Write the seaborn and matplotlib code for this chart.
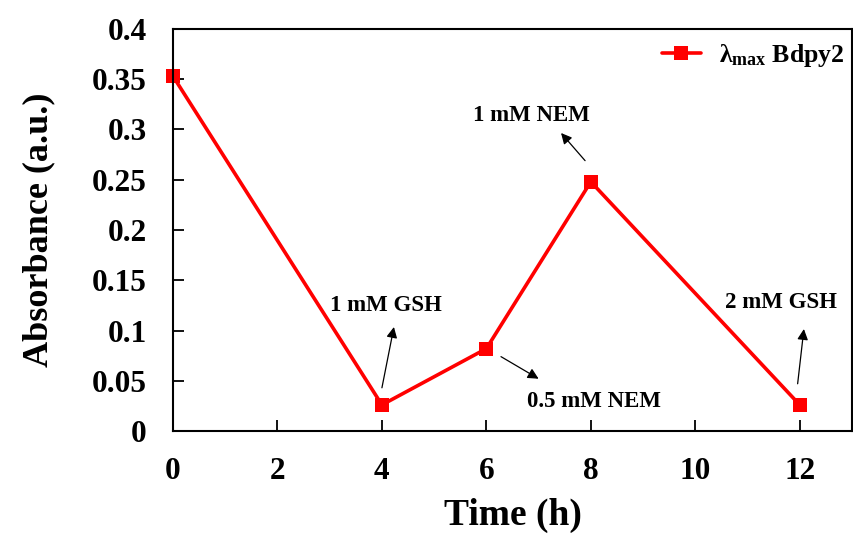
import matplotlib
matplotlib.use("Agg")
import matplotlib.pyplot as plt
import seaborn as sns
import pandas as pd
from matplotlib.ticker import FuncFormatter, MultipleLocator

# data
time_h = [0, 4, 6, 8, 12]
absorbance = [0.353, 0.026, 0.082, 0.248, 0.026]
series_label = r"$\mathbf{\lambda_{max}}$ Bdpy2"

# annotations: text, text position, arrow tail, arrow head (data coords)
notes = ["1 mM GSH", "0.5 mM NEM", "1 mM NEM", "2 mM GSH"]
note_xy = [(4.08, 0.125), (8.06, 0.029), (6.87, 0.314), (11.64, 0.128)]
arrow_tail = [(4.0, 0.043), (6.28, 0.074), (7.89, 0.269), (11.96, 0.047)]
arrow_head = [(4.23, 0.1035), (7.0, 0.052), (7.43, 0.2965), (12.08, 0.1015)]

df = pd.DataFrame({"time": time_h, "abs": absorbance})

sns.set_style("ticks")
plt.rcParams["font.family"] = ["Liberation Serif", "DejaVu Serif"]
plt.rcParams["font.weight"] = "bold"
plt.rcParams["text.color"] = "black"
plt.rcParams["axes.labelcolor"] = "black"
plt.rcParams["mathtext.fontset"] = "custom"
plt.rcParams["mathtext.rm"] = "Liberation Serif:bold"
plt.rcParams["mathtext.bf"] = "Liberation Serif:bold"
plt.rcParams["mathtext.it"] = "Liberation Serif:bold"

fig = plt.figure(figsize=(8.54, 5.46), dpi=100)
ax = fig.add_axes([0.2026, 0.2106, 0.795, 0.7363])

sns.lineplot(data=df, x="time", y="abs", ax=ax, color="#ff0000", marker="s",
             markersize=9.5, markeredgewidth=0, linewidth=2.6,
             label=series_label, clip_on=False)

ax.set_xlim(0, 13)
ax.set_ylim(0, 0.4)
ax.xaxis.set_major_locator(MultipleLocator(2))
ax.yaxis.set_major_locator(MultipleLocator(0.05))
ax.yaxis.set_major_formatter(FuncFormatter(lambda v, p: "%g" % round(v, 2)))

for s in ax.spines.values():
    s.set_visible(True)
    s.set_color("black")
    s.set_linewidth(1.5)

ax.tick_params(direction="in", length=8, width=1.3, labelsize=22.5, pad=19,
               colors="black")
ax.tick_params(top=False, right=False)

ax.set_xlabel("Time (h)", fontsize=27, fontweight="bold", labelpad=8)
ax.set_ylabel("Absorbance (a.u.)", fontsize=26, fontweight="bold", labelpad=26)

for t, xy, tail, head in zip(notes, note_xy, arrow_tail, arrow_head):
    ax.annotate("", xy=head, xytext=tail,
                arrowprops=dict(arrowstyle="-|>", color="black", lw=0.9,
                                mutation_scale=16, shrinkA=0, shrinkB=0))
    ax.text(xy[0], xy[1], t, fontsize=16.5, fontweight="bold",
            ha="center", va="center")

leg = ax.legend(loc="upper right", bbox_to_anchor=(1.0, 0.988), frameon=False,
                fontsize=18.5, handlelength=1.5, handletextpad=0.7,
                borderaxespad=0.0, borderpad=0.3)

fig.savefig("out.png", dpi=100)
